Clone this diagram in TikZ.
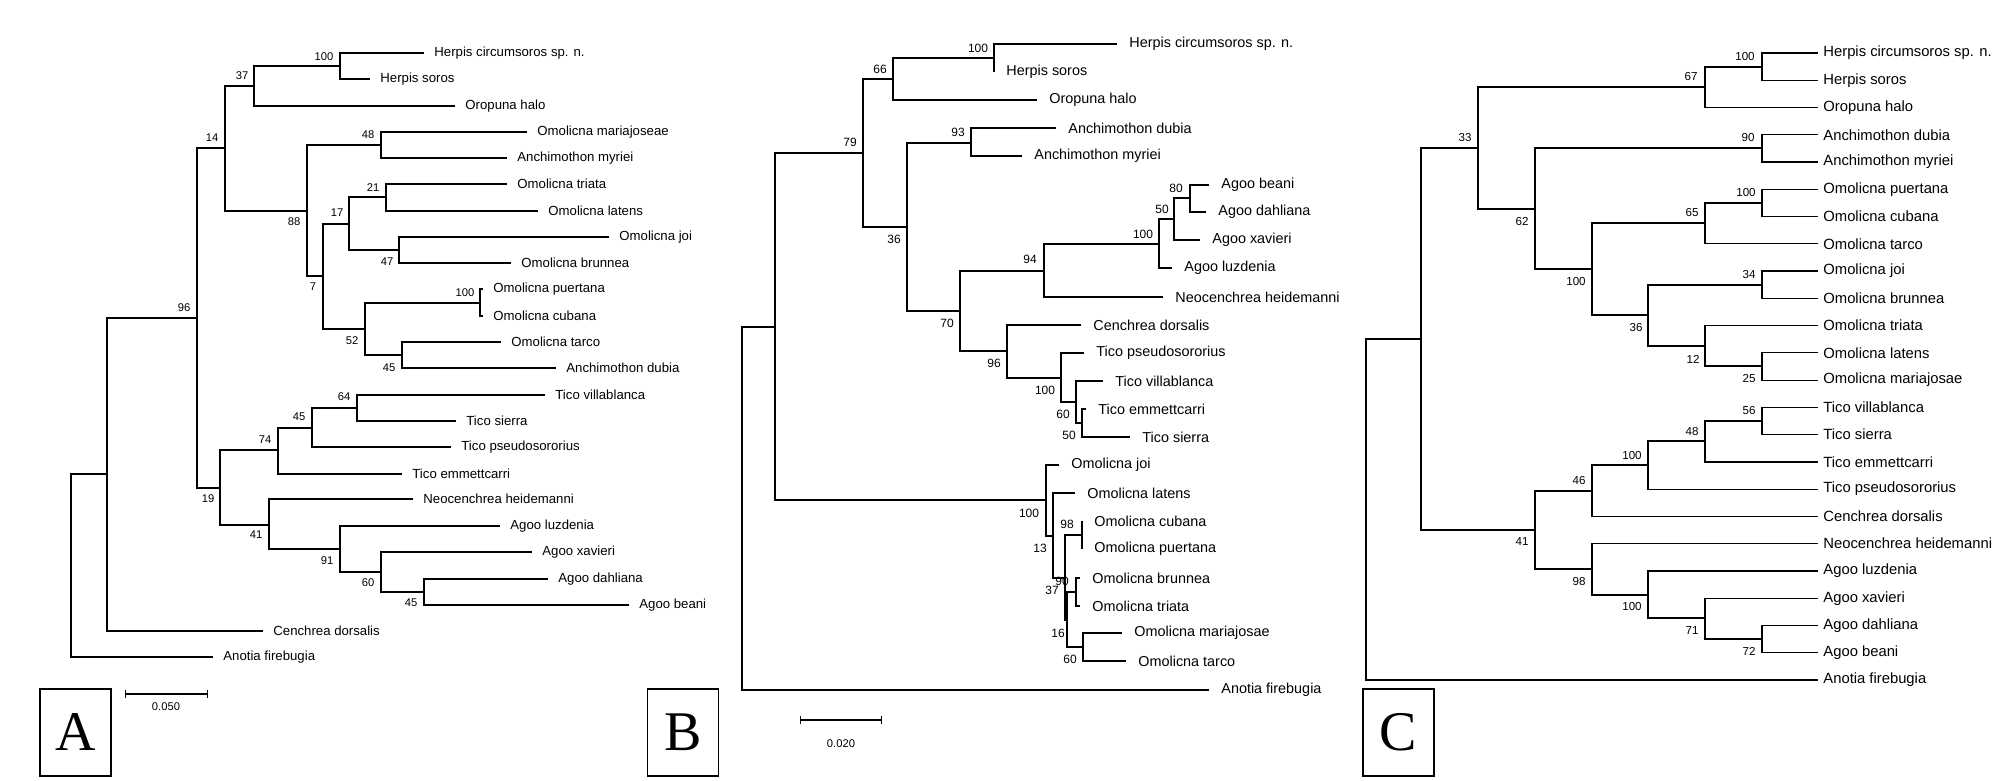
\documentclass[tikz,border=0pt]{standalone}
\usepackage{fontspec}
\setmainfont{Liberation Sans}
\newfontfamily\panelfont{Liberation Serif}
\usetikzlibrary{arrows.meta}

\begin{document}
\begin{tikzpicture}[x=0.5pt, y=-0.5pt,
    branch/.style={line width=0.6pt},
    taxonA/.style={anchor=west, inner sep=0pt, xshift=5pt, font=\fontsize{6.6}{7}\selectfont},
    taxonB/.style={anchor=west, inner sep=0pt, xshift=6pt, font=\fontsize{7.2}{8}\selectfont},
    taxonC/.style={anchor=west, inner sep=0pt, xshift=2.5pt, font=\fontsize{7.4}{8}\selectfont},
    boot/.style={inner sep=0pt, font=\fontsize{5.6}{6}\selectfont},
    panelbox/.style={draw, line width=0.8pt, minimum width=35.5pt, minimum height=43.5pt,
                     inner sep=0pt, font=\panelfont\fontsize{28}{30}\selectfont},
    scalebar/.style={line width=0.6pt, {Bar[width=4pt]}-{Bar[width=4pt]}},
    scalelab/.style={inner sep=0pt, font=\fontsize{5.6}{6}\selectfont}]

    \fill[white] (0,0) rectangle (2012,781);
    \useasboundingbox (0,0) rectangle (2012,781);

    % ---------------- Panel A ----------------
    \foreach \c/\x/\y/\t in {aHc/424/53/Herpis circumsoros sp. n., aHs/370/79/Herpis soros,
        aOh/455/106/Oropuna halo, aOm/527/132/Omolicna mariajoseae, aAm/507/158/Anchimothon myriei,
        aOt/507/184/Omolicna triata, aOl/538/211/Omolicna latens, aOj/609/237/Omolicna joi,
        aOb/511/263/Omolicna brunnea, aOp/483/289/Omolicna puertana, aOc/483/316/Omolicna cubana,
        aOk/501/342/Omolicna tarco, aAd/556/368/Anchimothon dubia, aTv/545/395/Tico villablanca,
        aTs/456/421/Tico sierra, aTp/451/447/Tico pseudosororius, aTe/402/474/Tico emmettcarri,
        aNh/413/499/Neocenchrea heidemanni, aAl/500/526/Agoo luzdenia, aAx/532/552/Agoo xavieri,
        aAh/548/579/Agoo dahliana, aAb/629/605/Agoo beani, aCd/263/631/Cenchrea dorsalis,
        aAf/213/657/Anotia firebugia}
    {
        \coordinate (\c) at (\x,\y);
        \node[taxonA] (\c-name) at (\c) {\t};
    }
    \coordinate (aR) at (71,565);
    \coordinate (a1) at (107,474);
    \foreach \n/\x/\y/\lx/\ly/\t in {a96/197/318/184/308/96, a14/225/148/212/138/14,
        a37/254/86/242/76/37, a100h/340/66/324/57/100, a88/307/211/294/222/88,
        a48/381/145/368/135/48, a7/323/276/313/287/7, a17/349/224/337/213/17,
        a21/386/197/373/188/21, a47/399/250/387/262/47, a52/365/329/352/341/52,
        a100o/480/303/465/293/100, a45o/402/355/389/368/45, a19/220/488/208/499/19,
        a74/278/450/265/440/74, a45t/312/428/299/417/45, a64/357/408/344/397/64,
        a41/269/525/256/535/41, a91/340/549/327/561/91, a60/381/572/368/583/60,
        a45a/424/592/411/603/45}
    {
        \coordinate (\n) at (\x,\y);
        \node[boot] (\n-bs) at (\lx,\ly) {\t};
    }
    \foreach \p/\c in {aR/a1, aR/aAf, a1/a96, a1/aCd, a96/a14, a96/a19, a14/a37, a14/a88,
        a37/a100h, a37/aOh, a100h/aHc, a100h/aHs, a88/a48, a88/a7, a48/aOm, a48/aAm,
        a7/a17, a7/a52, a17/a21, a17/a47, a21/aOt, a21/aOl, a47/aOj, a47/aOb,
        a52/a100o, a52/a45o, a100o/aOp, a100o/aOc, a45o/aOk, a45o/aAd, a19/a74, a19/a41,
        a74/a45t, a74/aTe, a45t/a64, a45t/aTp, a64/aTv, a64/aTs, a41/aNh, a41/a91,
        a91/aAl, a91/a60, a60/aAx, a60/a45a, a45a/aAh, a45a/aAb}
        \draw[branch] (\p) |- (\c);

    % scale bar and panel letter
    \draw[scalebar] (125,694) -- (208,694);
    \node[scalelab] (aScale) at (166,707) {0.050};
    \node[panelbox] (aLetter) at (75.5,732.5) {A};

    % ---------------- Panel B ----------------
    \foreach \c/\x/\y/\t in {bHc/1117/44/Herpis circumsoros sp. n., bHs/994/72/Herpis soros,
        bOh/1037/100/Oropuna halo, bAd/1056/128/Anchimothon dubia, bAm/1022/156/Anchimothon myriei,
        bAb/1209/185/Agoo beani, bAh/1206/212/Agoo dahliana, bAx/1200/240/Agoo xavieri,
        bAl/1172/268/Agoo luzdenia, bNh/1163/297/Neocenchrea heidemanni, bCd/1081/325/Cenchrea dorsalis,
        bTp/1084/353/Tico pseudosororius, bTv/1103/381/Tico villablanca, bTe/1086/409/Tico emmettcarri,
        bTs/1130/437/Tico sierra, bOj/1059/465/Omolicna joi, bOl/1075/493/Omolicna latens,
        bOc/1082/521/Omolicna cubana, bOp/1082/549/Omolicna puertana, bOb/1080/578/Omolicna brunnea,
        bOt/1080/606/Omolicna triata, bOm/1122/633/Omolicna mariajosae, bOk/1126/661/Omolicna tarco,
        bAf/1209/690/Anotia firebugia}
    {
        \coordinate (\c) at (\x,\y);
        \node[taxonB] (\c-name) at (\c) {\t};
    }
    \coordinate (bR) at (742,508);
    \coordinate (b1) at (775,327);
    \foreach \n/\x/\y/\lx/\ly/\t in {b79/863/153/850/142/79, b66/893/79/880/69/66,
        b100h/994/58/978/48/100, b36/907/227/894/239/36, b93/971/143/958/132/93,
        b70/960/311/947/323/70, b94/1044/271/1030/259/94, b100a/1159/244/1143/234/100,
        b50/1174/219/1162/209/50, b80/1190/198/1176/188/80, b96/1007/351/994/363/96,
        b100t/1061/378/1045/390/100, b60t/1076/402/1063/414/60, b50t/1082/423/1069/435/50,
        b100o/1046/500/1029/513/100, b13/1053/536/1040/548/13, b37/1065/578/1052/590/37,
        b98/1082/535/1067/524/98, b16/1067/620/1058/633/16, b90/1076/592/1062/581/90,
        b60o/1083/647/1070/659/60}
    {
        \coordinate (\n) at (\x,\y);
        \node[boot, font=\fontsize{6}{7}\selectfont] (\n-bs) at (\lx,\ly) {\t};
    }
    \foreach \p/\c in {bR/b1, bR/bAf, b1/b79, b1/b100o, b79/b66, b79/b36, b66/b100h, b66/bOh,
        b100h/bHc, b100h/bHs, b36/b93, b36/b70, b93/bAd, b93/bAm, b70/b94, b70/b96,
        b94/b100a, b94/bNh, b100a/b50, b100a/bAl, b50/b80, b50/bAx, b80/bAb, b80/bAh,
        b96/bCd, b96/b100t, b100t/bTp, b100t/b60t, b60t/bTv, b60t/b50t, b50t/bTe, b50t/bTs,
        b100o/bOj, b100o/b13, b13/bOl, b13/b37, b37/b98, b37/b16, b98/bOc, b98/bOp,
        b16/b90, b16/b60o, b90/bOb, b90/bOt, b60o/bOm, b60o/bOk}
        \draw[branch] (\p) |- (\c);

    % scale bar and panel letter
    \draw[scalebar] (800,720) -- (882,720);
    \node[scalelab] (bScale) at (841,744) {0.020};
    \node[panelbox] (bLetter) at (683,732.5) {B};

    % ---------------- Panel C ----------------
    \foreach [count=\i from 0] \c/\t in {cHc/Herpis circumsoros sp. n., cHs/Herpis soros,
        cOh/Oropuna halo, cAd/Anchimothon dubia, cAm/Anchimothon myriei, cOp/Omolicna puertana,
        cOc/Omolicna cubana, cOk/Omolicna tarco, cOj/Omolicna joi, cOb/Omolicna brunnea,
        cOt/Omolicna triata, cOl/Omolicna latens, cOm/Omolicna mariajosae, cTv/Tico villablanca,
        cTs/Tico sierra, cTe/Tico emmettcarri, cTp/Tico pseudosororius, cCd/Cenchrea dorsalis,
        cNh/Neocenchrea heidemanni, cAl/Agoo luzdenia, cAx/Agoo xavieri, cAh/Agoo dahliana,
        cAb/Agoo beani, cAf/Anotia firebugia}
    {
        \coordinate (\c) at (1818,53+27.26*\i);
        \node[taxonC] (\c-name) at (\c) {\t};
    }
    \coordinate (cR) at (1366,509);
    \coordinate (c1) at (1421,339);
    \foreach \n/\x/\y/\lx/\ly/\t in {c33/1478/148/1465/138/33, c67/1705/87/1691/77/67,
        c100h/1762/67/1745/57/100, c62/1535/209/1522/222/62, c90/1762/148/1748/138/90,
        c100o/1592/269/1576/282/100, c65/1705/223/1692/213/65, c100p/1762/203/1746/193/100,
        c36/1648/315/1636/328/36, c34/1762/285/1749/275/34, c12/1705/346/1693/359/12,
        c25/1762/366/1749/379/25, c41/1535/530/1522/542/41, c46/1592/491/1579/481/46,
        c100t/1648/465/1632/456/100, c48/1705/441/1692/432/48, c56/1762/421/1749/411/56,
        c98/1592/569/1579/581/98, c100a/1648/595/1632/607/100, c71/1705/618/1692/631/71,
        c72/1762/639/1749/651/72}
    {
        \coordinate (\n) at (\x,\y);
        \node[boot, font=\fontsize{5.8}{6}\selectfont] (\n-bs) at (\lx,\ly) {\t};
    }
    \foreach \p/\c in {cR/c1, cR/cAf, c1/c33, c1/c41, c33/c67, c33/c62, c67/c100h, c67/cOh,
        c100h/cHc, c100h/cHs, c62/c90, c62/c100o, c90/cAd, c90/cAm, c100o/c65, c100o/c36,
        c65/c100p, c65/cOk, c100p/cOp, c100p/cOc, c36/c34, c36/c12, c34/cOj, c34/cOb,
        c12/cOt, c12/c25, c25/cOl, c25/cOm, c41/c46, c41/c98, c46/c100t, c46/cCd,
        c100t/c48, c100t/cTp, c48/c56, c48/cTe, c56/cTv, c56/cTs, c98/cNh, c98/c100a,
        c100a/cAl, c100a/c71, c71/cAx, c71/c72, c72/cAh, c72/cAb}
        \draw[branch] (\p) |- (\c);

    % panel letter
    \node[panelbox] (cLetter) at (1398.5,732.5) {C};
\end{tikzpicture}
\end{document}
